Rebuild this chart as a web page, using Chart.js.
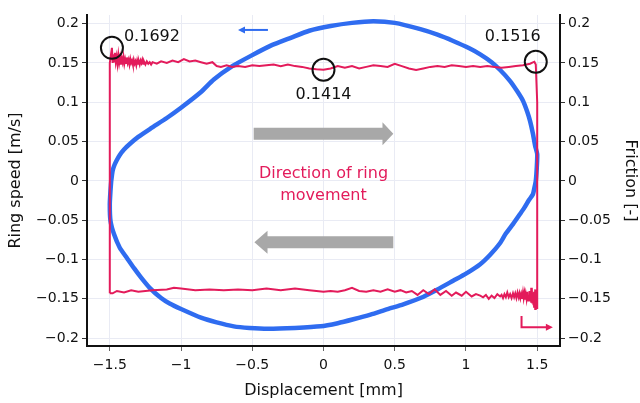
<!DOCTYPE html>
<html><head><meta charset="utf-8">
<script src="https://cdn.jsdelivr.net/npm/chart.js@4/dist/chart.umd.min.js"></script>
<style>html,body{margin:0;padding:0;background:#fff}</style>
</head><body>
<canvas id="c" width="640" height="403"></canvas>
<script>
const xTicks = [-1.5,-1,-0.5,0,0.5,1,1.5];
const yTicks = [-0.2,-0.15,-0.1,-0.05,0,0.05,0.1,0.15,0.2];

const speedX = [-1.49,-1.485,-1.48,-1.47,-1.455,-1.43,-1.40,-1.36,-1.3,-1.21,-1.1,-1.0,-0.86,-0.77,-0.64,-0.51,-0.37,-0.23,-0.1,0.05,0.2,0.35,0.5,0.68,0.8,0.91,1.02,1.10,1.18,1.24,1.31,1.36,1.40,1.43,1.45,1.47,1.485,1.50,1.497,1.49,1.48,1.47,1.44,1.41,1.38,1.33,1.28,1.24,1.17,1.10,1.0,0.91,0.8,0.68,0.56,0.45,0.33,0.21,0.1,-0.02,-0.2,-0.39,-0.52,-0.63,-0.75,-0.86,-1.0,-1.08,-1.14,-1.22,-1.28,-1.33,-1.38,-1.43,-1.47,-1.495,-1.5,-1.495,-1.49];
const speedY = [0,0.007,0.013,0.019,0.025,0.033,0.040,0.047,0.056,0.067,0.080,0.093,0.113,0.129,0.146,0.159,0.172,0.182,0.191,0.197,0.201,0.203,0.201,0.193,0.186,0.178,0.169,0.161,0.151,0.141,0.127,0.114,0.102,0.088,0.076,0.06,0.045,0.034,0.017,0,-0.009,-0.017,-0.025,-0.034,-0.042,-0.055,-0.067,-0.079,-0.094,-0.106,-0.118,-0.127,-0.138,-0.149,-0.157,-0.163,-0.170,-0.176,-0.181,-0.185,-0.187,-0.188,-0.187,-0.185,-0.180,-0.174,-0.163,-0.156,-0.149,-0.136,-0.123,-0.111,-0.098,-0.085,-0.068,-0.051,-0.03,-0.012,0];

const fricX = [-1.5,-1.5,-1.485,-1.48,
-1.476,-1.470,-1.464,-1.458,-1.452,-1.446,-1.440,-1.434,-1.428,-1.422,-1.416,-1.410,-1.404,-1.398,-1.392,-1.386,-1.380,-1.374,-1.368,-1.362,-1.356,-1.350,-1.344,-1.338,-1.332,-1.326,-1.320,-1.314,-1.308,-1.302,-1.296,-1.290,-1.284,-1.278,-1.272,-1.266,-1.260,-1.25,-1.24,-1.23,-1.22,-1.21,-1.20,
-1.17,-1.14,-1.10,-1.06,-1.02,-0.98,-0.94,-0.90,-0.86,-0.82,-0.78,-0.75,-0.72,-0.68,-0.64,-0.60,-0.55,-0.50,-0.45,-0.40,-0.35,-0.30,-0.25,-0.20,-0.15,-0.10,-0.05,0,0.05,0.10,0.15,0.20,0.25,0.30,0.35,0.40,0.45,0.50,0.55,0.60,0.65,0.70,0.75,0.80,0.85,0.90,0.95,1.00,1.05,1.10,1.15,1.20,1.25,1.30,1.35,1.40,1.45,1.48,1.49,1.50,1.50,
1.495,1.490,1.486,1.482,1.478,1.474,1.470,1.466,1.462,1.458,1.454,1.450,1.446,1.442,1.438,1.434,1.430,1.425,1.420,1.415,1.410,1.405,1.400,1.394,1.388,1.382,1.376,1.370,1.362,1.354,1.346,1.338,1.330,1.320,1.310,1.300,1.29,1.28,1.27,1.26,1.25,1.24,1.22,1.20,1.18,1.16,1.14,1.12,1.10,1.07,1.04,1.00,0.97,0.93,0.90,0.86,0.82,0.78,0.74,0.70,0.66,0.62,0.58,0.54,0.50,0.45,0.40,0.35,0.30,0.25,0.20,0.15,0.10,0.05,0,-0.1,-0.2,-0.3,-0.4,-0.5,-0.6,-0.7,-0.8,-0.9,-1.0,-1.05,-1.1,-1.2,-1.3,-1.35,-1.4,-1.45,-1.48,-1.5];
const fricY = [-0.143,0.15,0.1692,0.150,
0.161,0.152,0.163,0.151,0.158,0.149,0.160,0.150,0.157,0.148,0.156,0.151,0.158,0.149,0.155,0.150,0.157,0.150,0.154,0.148,0.155,0.150,0.153,0.148,0.154,0.149,0.152,0.147,0.153,0.149,0.152,0.148,0.153,0.150,0.154,0.149,0.152,0.148,0.152,0.149,0.151,0.148,0.151,
0.149,0.152,0.150,0.153,0.151,0.155,0.152,0.153,0.151,0.149,0.151,0.146,0.145,0.147,0.145,0.146,0.145,0.147,0.146,0.147,0.148,0.146,0.148,0.146,0.145,0.143,0.142,0.1414,0.143,0.146,0.144,0.146,0.143,0.145,0.147,0.146,0.145,0.149,0.146,0.143,0.141,0.143,0.145,0.146,0.145,0.147,0.146,0.145,0.146,0.145,0.146,0.145,0.144,0.145,0.146,0.147,0.149,0.1516,0.148,0.10,-0.163,
-0.150,-0.163,-0.138,-0.160,-0.141,-0.158,-0.143,-0.156,-0.136,-0.155,-0.144,-0.153,-0.140,-0.152,-0.145,-0.151,-0.141,-0.150,-0.144,-0.151,-0.143,-0.149,-0.142,-0.150,-0.144,-0.149,-0.143,-0.148,-0.142,-0.149,-0.143,-0.148,-0.143,-0.149,-0.144,-0.148,-0.142,-0.148,-0.144,-0.149,-0.145,-0.147,-0.144,-0.149,-0.146,-0.150,-0.145,-0.148,-0.146,-0.144,-0.147,-0.141,-0.146,-0.142,-0.146,-0.140,-0.145,-0.138,-0.144,-0.139,-0.145,-0.140,-0.142,-0.139,-0.141,-0.138,-0.141,-0.139,-0.141,-0.140,-0.136,-0.139,-0.141,-0.140,-0.141,-0.139,-0.137,-0.139,-0.137,-0.139,-0.138,-0.139,-0.138,-0.139,-0.137,-0.136,-0.138,-0.139,-0.141,-0.139,-0.142,-0.140,-0.143,-0.143];

const peakX = [-1.485, 0, 1.49];
const peakY = [0.1692, 0.1414, 0.1516];
const peakLabels = ['0.1692','0.1414','0.1516'];

const FONT = 'DejaVu Sans';
const BLUE = '#2f6cf0';
const RED = '#e31b5b';
const GRAY = '#a8a8a8';

const fmt = v => v === 0 ? '0' : String(v).replace('-', '\u2212');

function pts(xs, ys){ return xs.map((x,i)=>({x, y: ys[i]})); }

const annot = {
  id: 'annot',
  afterDatasetsDraw(chart){
    const {ctx} = chart;
    const sx = chart.scales.x, sy = chart.scales.y;
    const X = v => sx.getPixelForValue(v), Y = v => sy.getPixelForValue(v);
    ctx.save();
    ctx.fillStyle = GRAY;
    let yc = Y(0.060), x0 = X(-0.49), xb = X(0.414), xt = X(0.49);
    ctx.beginPath();
    ctx.moveTo(x0, yc-6); ctx.lineTo(xb, yc-6); ctx.lineTo(xb, yc-11.5); ctx.lineTo(xt, yc);
    ctx.lineTo(xb, yc+11.5); ctx.lineTo(xb, yc+6); ctx.lineTo(x0, yc+6); ctx.closePath(); ctx.fill();
    yc = Y(-0.078); x0 = X(0.49); xb = X(-0.393); xt = X(-0.485);
    ctx.beginPath();
    ctx.moveTo(x0, yc-6); ctx.lineTo(xb, yc-6); ctx.lineTo(xb, yc-11.5); ctx.lineTo(xt, yc);
    ctx.lineTo(xb, yc+11.5); ctx.lineTo(xb, yc+6); ctx.lineTo(x0, yc+6); ctx.closePath(); ctx.fill();
    ctx.fillStyle = RED;
    ctx.font = '16px "' + FONT + '"';
    ctx.textAlign = 'center'; ctx.textBaseline = 'middle';
    ctx.fillText('Direction of ring', X(0), Y(0.009));
    ctx.fillText('movement', X(0), Y(-0.019));
    ctx.strokeStyle = BLUE; ctx.fillStyle = BLUE; ctx.lineWidth = 2;
    let ay = Y(0.192), ax0 = X(-0.39), ax1 = X(-0.6);
    ctx.beginPath(); ctx.moveTo(ax0, ay); ctx.lineTo(ax1+5, ay); ctx.stroke();
    ctx.beginPath(); ctx.moveTo(ax1, ay); ctx.lineTo(ax1+7, ay-3.5); ctx.lineTo(ax1+7, ay+3.5); ctx.closePath(); ctx.fill();
    ctx.strokeStyle = RED; ctx.fillStyle = RED;
    const rx = X(1.39), ry0 = Y(-0.172), ry1 = Y(-0.186), rx1 = X(1.61);
    ctx.beginPath(); ctx.moveTo(rx, ry0); ctx.lineTo(rx, ry1); ctx.lineTo(rx1-5, ry1); ctx.stroke();
    ctx.beginPath(); ctx.moveTo(rx1, ry1); ctx.lineTo(rx1-7, ry1-3.5); ctx.lineTo(rx1-7, ry1+3.5); ctx.closePath(); ctx.fill();
    ctx.fillStyle = '#111';
    ctx.font = '16px "' + FONT + '"';
    const offs = [[12,-11,'left'],[0,25,'center'],[-23,-25,'center']];
    peakLabels.forEach((t,i)=>{
      ctx.textAlign = offs[i][2];
      ctx.fillText(t, X(peakX[i]) + offs[i][0], Y(peakY[i]) + offs[i][1]);
    });
    ctx.restore();
  }
};

const tickFont = {family: FONT, size: 14};
const titleFont = {family: FONT, size: 16};
const gridColor = '#e9ebf4';

function yScale(pos, title, width, pad){
  return {
    type: 'linear', position: pos, min: -0.21, max: 0.211,
    afterBuildTicks: s => { s.ticks = yTicks.map(v => ({value: v})); },
    afterFit: s => { s.width = width; },
    ticks: {font: tickFont, color: '#111', padding: 3, autoSkip: false, callback: v => fmt(v)},
    grid: {color: gridColor, tickColor: '#333', tickLength: 5, drawOnChartArea: pos === 'left'},
    border: {color: '#111', width: 2},
    title: {display: true, text: title, font: titleFont, color: '#111', padding: pad}
  };
}

new Chart(document.getElementById('c'), {
  type: 'scatter',
  data: {
    datasets: [
      {label: 'peaks', data: pts(peakX, peakY), yAxisID: 'y2', showLine: false,
       pointRadius: 11, pointHoverRadius: 11, pointBorderColor: '#111', pointBorderWidth: 2,
       pointBackgroundColor: 'rgba(0,0,0,0)', order: 0},
      {label: 'Friction', data: pts(fricX, fricY), yAxisID: 'y2', showLine: true,
       borderColor: RED, borderWidth: 2, pointRadius: 0, tension: 0, order: 1},
      {label: 'Ring speed', data: pts(speedX, speedY), yAxisID: 'y', showLine: true,
       borderColor: BLUE, borderWidth: 4.5, pointRadius: 0, tension: 0.2, order: 2}
    ]
  },
  options: {
    responsive: false, animation: false, devicePixelRatio: 1,
    layout: {padding: {top: 15, left: 0, right: 0, bottom: 0}},
    plugins: {legend: {display: false}, tooltip: {enabled: false}},
    scales: {
      x: {
        type: 'linear', min: -1.66, max: 1.66,
        afterBuildTicks: s => { s.ticks = xTicks.map(v => ({value: v})); },
        afterFit: s => { s.height = 57; },
        ticks: {font: tickFont, color: '#111', padding: 6, autoSkip: false, maxRotation: 0, callback: v => fmt(v)},
        grid: {color: gridColor, tickColor: '#666', tickLength: 5},
        border: {color: '#111', width: 2},
        title: {display: true, text: 'Displacement [mm]', font: titleFont, color: '#111', padding: {top: 0, bottom: 3}}
      },
      y: yScale('left', 'Ring speed [m/s]', 87, {top: 6, bottom: 0}),
      y2: yScale('right', 'Friction [-]', 80, {top: 0, bottom: 0})
    }
  },
  plugins: [annot]
});
</script>
</body></html>
